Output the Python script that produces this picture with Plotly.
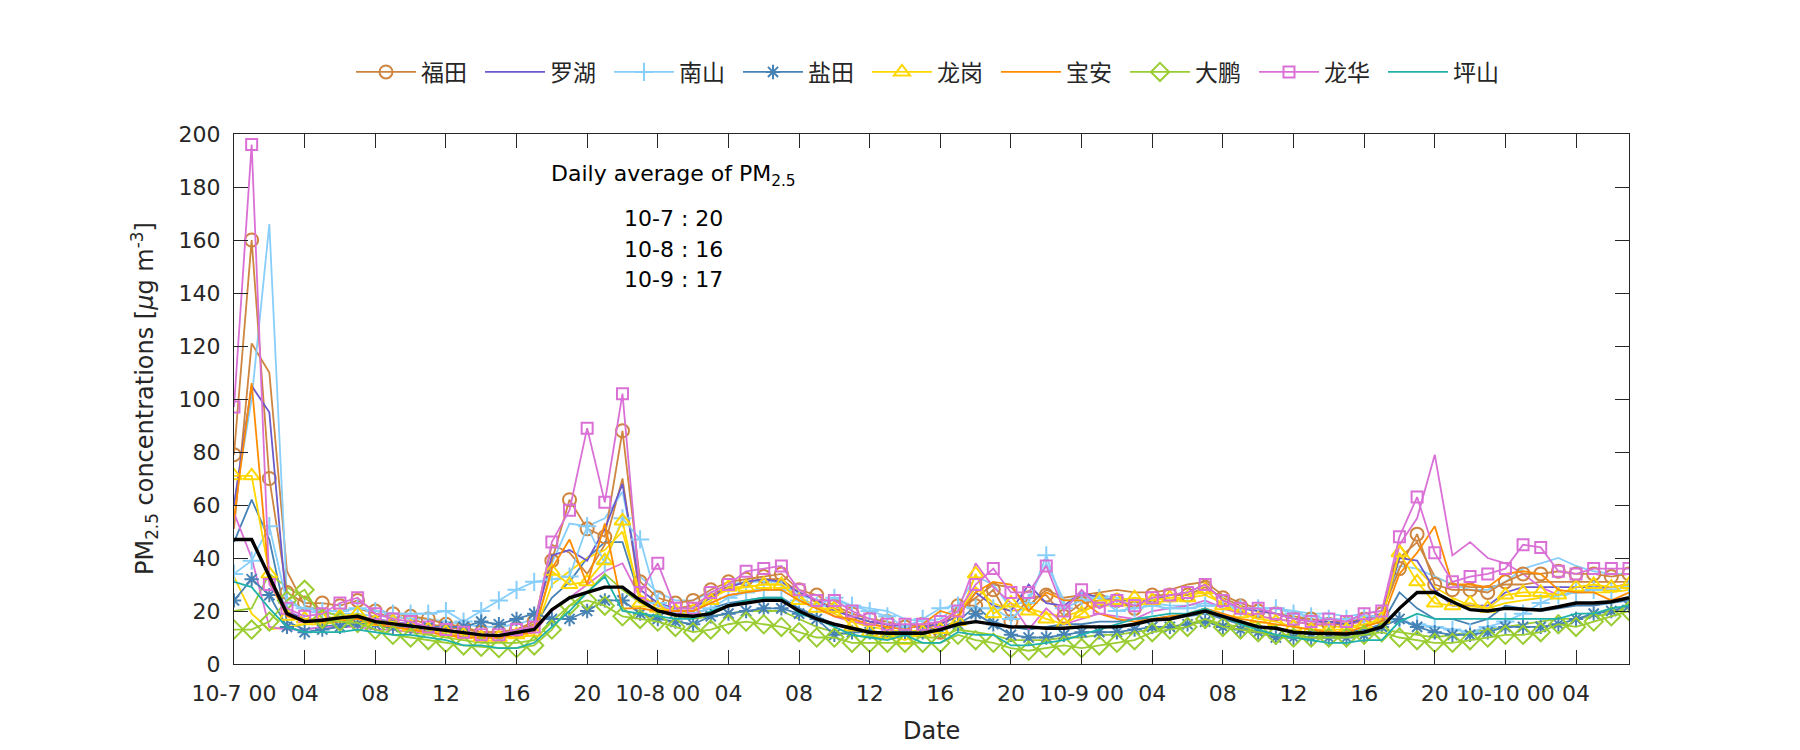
import plotly.graph_objects as go

# ---------------- data (hourly, 10-7 00:00 .. 10-10 07:00) ----------------
hours = list(range(80))

x_tickvals = [0, 4, 8, 12, 16, 20, 24, 28, 32, 36, 40, 44, 48, 52, 56, 60, 64, 68, 72, 76]
x_ticktext = ["10-7 00", "04", "08", "12", "16", "20", "10-8 00", "04", "08", "12", "16", "20",
              "10-9 00", "04", "08", "12", "16", "20", "10-10 00", "04"]
y_tickvals = [0, 20, 40, 60, 80, 100, 120, 140, 160, 180, 200]

futian = [79, 160, 70, 27, 23, 23, 22, 24, 20, 19, 18, 17, 15, 14, 12, 12, 13, 16,
          39, 62, 51, 48, 88, 31, 25, 23, 24, 28, 31, 32, 33, 34, 28, 26,
          22, 19, 17, 16, 14, 15, 12, 22, 22, 28, 16, 25, 26, 18, 23, 24,
          24, 21, 26, 26, 26, 29, 25, 22, 20, 19, 17, 17, 15, 15, 17, 19,
          36, 49, 30, 28, 28, 27, 31, 34, 34, 35, 34, 34, 33, 34]
futian_b = [51, 121, 110, 35, 22, 20, 20, 21, 19, 18, 17, 15, 14, 13, 12, 12, 13, 15,
            45, 42, 34, 45, 70, 25, 22, 21, 22, 26, 29, 31, 32, 32, 27, 24,
            21, 18, 16, 15, 14, 14, 16, 20, 25, 30, 29, 22, 28, 25, 26, 27,
            28, 27, 27, 28, 30, 31, 26, 23, 21, 19, 18, 17, 16, 16, 17, 18,
            40, 46, 33, 30, 29, 29, 30, 30, 31, 31, 31, 31, 31, 31]
luohu = [60, 105, 95, 20, 17, 17, 17, 18, 17, 16, 15, 14, 13, 12, 11, 11, 12, 14,
         41, 43, 39, 51, 68, 28, 23, 21, 21, 25, 29, 31, 32, 31, 27, 24,
         20, 18, 16, 15, 14, 14, 15, 18, 27, 22, 20, 30, 23, 22, 27, 25,
         24, 24, 24, 26, 27, 30, 24, 21, 20, 19, 17, 16, 16, 15, 17, 19,
         40, 39, 28, 22, 22, 22, 27, 29, 29, 29, 29, 29, 29, 30]
nanshan = [34, 39, 52, 23, 21, 20, 20, 21, 20, 19, 19, 19, 20, 16, 20, 24, 28, 31,
           32, 33, 52, 38, 55, 47, 23, 20, 19, 21, 25, 27, 28, 28, 24, 22,
           25, 22, 20, 18, 14, 17, 21, 22, 21, 21, 17, 23, 41, 21, 24, 25,
           20, 21, 22, 21, 21, 22, 22, 21, 21, 21, 19, 18, 17, 17, 18, 18,
           16, 15, 14, 13, 12, 14, 16, 19, 23, 26, 27, 28, 28, 29]
nanshan_b = [60, 100, 166, 25, 20, 19, 19, 19, 18, 18, 17, 17, 16, 15, 14, 14, 15, 17,
             38, 53, 52, 55, 65, 33, 27, 24, 24, 27, 30, 31, 31, 31, 26, 24,
             24, 22, 21, 20, 17, 16, 17, 22, 33, 30, 21, 25, 38, 24, 25, 26,
             25, 24, 23, 22, 22, 23, 22, 21, 21, 21, 20, 19, 19, 18, 19, 20,
             37, 36, 33, 30, 28, 28, 31, 36, 38, 40, 37, 35, 34, 34]
yantian = [24, 32, 26, 14, 12, 13, 14, 15, 15, 14, 14, 14, 14, 14, 16, 15, 17, 19,
           17, 17, 20, 24, 24, 19, 17, 16, 15, 18, 19, 20, 21, 21, 19, 17,
           11, 12, 12, 12, 12, 12, 13, 15, 19, 15, 11, 10, 10, 11, 12, 12,
           12, 13, 14, 14, 15, 16, 14, 13, 12, 10, 10, 10, 10, 10, 11, 14,
           17, 14, 12, 11, 11, 12, 14, 14, 14, 15, 17, 19, 20, 22]
yantian_b = [46, 62, 47, 16, 13, 14, 15, 16, 15, 14, 13, 13, 12, 12, 11, 11, 12, 14,
             25, 31, 40, 46, 46, 25, 20, 19, 19, 21, 23, 24, 25, 25, 21, 18,
             15, 13, 12, 11, 11, 12, 14, 16, 22, 16, 14, 13, 14, 15, 15, 16,
             16, 17, 17, 18, 18, 19, 17, 15, 14, 13, 12, 12, 12, 12, 13, 15,
             27, 21, 17, 17, 15, 17, 22, 21, 20, 21, 22, 22, 23, 24]
longgang = [71, 71, 34, 18, 17, 17, 18, 19, 16, 16, 14, 13, 12, 11, 10, 10, 11, 12,
            35, 30, 31, 39, 54, 23, 21, 20, 20, 24, 29, 29, 30, 30, 24, 21,
            21, 14, 12, 11, 9, 12, 13, 16, 34, 19, 23, 20, 17, 15, 19, 24,
            24, 25, 24, 25, 25, 28, 22, 19, 17, 16, 14, 13, 13, 13, 15, 17,
            42, 31, 23, 22, 23, 21, 26, 27, 27, 26, 29, 30, 29, 30]
longgang_b = [33, 19, 13, 14, 15, 15, 16, 16, 15, 14, 13, 12, 11, 10, 10, 10, 10, 11,
              30, 35, 40, 43, 50, 26, 22, 21, 21, 25, 28, 29, 30, 30, 25, 22,
              19, 16, 14, 13, 12, 13, 15, 18, 29, 23, 20, 21, 19, 18, 20, 22,
              22, 22, 23, 24, 25, 26, 23, 20, 18, 17, 16, 15, 14, 14, 15, 16,
              45, 36, 29, 25, 22, 21, 23, 24, 25, 26, 27, 27, 27, 28]
baoan = [55, 106, 31, 18, 16, 16, 16, 17, 15, 14, 13, 12, 11, 10, 10, 10, 11, 12,
         36, 47, 30, 53, 21, 21, 20, 20, 20, 23, 26, 27, 28, 28, 24, 21,
         18, 17, 15, 14, 13, 15, 20, 18, 27, 31, 30, 20, 27, 24, 24, 19,
         17, 16, 17, 18, 19, 21, 19, 17, 16, 15, 14, 13, 12, 12, 14, 16,
         34, 42, 52, 30, 30, 29, 34, 35, 34, 28, 27, 27, 24, 27]
dapeng = [13, 13, 16, 24, 28, 17, 16, 15.5, 13, 11, 10, 9, 8, 7, 6.5, 6, 6, 7,
          13, 22, 24, 22, 18, 17, 16, 14, 12, 13, 15, 16, 15, 14, 12, 10,
          10, 8, 8, 8, 8, 8, 8, 11, 9, 8, 6, 5, 6, 7, 6, 7,
          8, 9, 12, 13, 14, 17, 14, 13, 12, 11, 10, 10, 10, 10, 11, 12,
          10, 9, 8, 8, 9, 10, 11, 11, 12, 15, 14, 16, 18, 20]
dapeng_b = [20, 21, 34, 29, 25, 20, 18, 17, 15, 13, 12, 11, 10, 9, 8, 8, 8, 9,
            16, 22, 27, 34, 28, 23, 20, 18, 17, 18, 19, 20, 20, 20, 17, 14,
            12, 11, 10, 10, 11, 10, 10, 13, 12, 11, 9, 9, 9, 10, 10, 11,
            11, 12, 13, 14, 15, 17, 15, 14, 12, 11, 11, 10, 10, 11, 12, 13,
            12, 11, 10, 11, 12, 13, 14, 15, 16, 17, 17, 18, 19, 21]
longhua = [97, 196, 30, 21, 18, 19, 23, 25, 19, 17, 16, 14, 13, 12, 11, 11, 13, 14,
           46, 58, 89, 61, 102, 27, 38, 21, 21, 27, 30, 35, 36, 37, 28, 24,
           24, 20, 17, 15, 15, 15, 16, 20, 30, 36, 27, 27, 37, 20, 28, 21,
           24, 22, 25, 26, 27, 30, 24, 21, 21, 19, 17, 16, 17, 16, 19, 20,
           48, 63, 42, 31, 33, 34, 36, 45, 44, 35, 34, 36, 36, 36]
longhua_b = [57, 40, 14, 13, 13, 14, 14, 14, 13, 13, 12, 12, 11, 11, 10, 10, 11, 12,
             20, 25, 30, 35, 38, 25, 22, 20, 20, 23, 26, 27, 28, 28, 24, 22,
             18, 16, 15, 14, 14, 14, 15, 20, 38, 29, 23, 13, 21, 15, 17, 19,
             18, 17, 20, 21, 22, 24, 21, 19, 18, 17, 16, 15, 15, 15, 16, 18,
             45, 55, 79, 41, 46, 40, 38, 34, 29, 26, 27, 28, 29, 30]
pingshan = [31, 29, 21, 14, 12, 12, 12, 13, 12, 11, 11, 10, 9, 7, 7, 6, 6, 8,
            14, 20, 27, 33, 20, 19, 18, 17, 17, 20, 22, 24, 25, 25, 19, 17,
            14, 11, 10, 9, 11, 8, 8, 12, 11, 11, 7, 7, 8, 9, 11, 13,
            15, 17, 18, 19, 19, 21, 18, 15, 13, 11, 10, 9, 8, 8, 9, 9,
            16, 19, 17, 17, 17, 17, 17, 17, 17, 17, 19, 19, 21, 22]
city_mean = [47, 47, 33, 19, 16, 16.5, 17.4, 18, 16, 15.2, 14.2, 13.6, 12.7, 11.7, 11, 10.7, 11.7, 13,
             20.5, 25, 27, 29, 29, 24, 20, 18.5, 18, 19, 22, 23, 24, 24, 20, 17,
             15, 13.5, 12, 11.6, 11.6, 11.6, 13, 15, 16, 15, 14, 14, 13.5, 13.5, 14, 14,
             14, 15, 16.6, 17, 18.5, 20, 18, 16, 14, 13.5, 12, 11.6, 11.3, 11.3, 12, 14,
             21, 27, 27, 23.5, 20.5, 20, 21, 20.6, 20.4, 21.6, 23, 23, 23.5, 25]

for arr in [futian, futian_b, luohu, nanshan, nanshan_b, yantian, yantian_b, longgang,
            longgang_b, baoan, dapeng, dapeng_b, longhua, longhua_b, pingshan, city_mean]:
    assert len(arr) == 80, len(arr)

# ---------------- styles ----------------
C_FT, C_LH, C_NS, C_YT = "#CD853F", "#6A5ACD", "#87CEFA", "#4682B4"
C_LG, C_BA, C_DP, C_LHU, C_PS = "#FFD700", "#FF8C00", "#9ACD32", "#DA70D6", "#20B2AA"
AX = "#262626"
LW = 1.8

fig = go.Figure()

def add(name, y, color, symbol=None, size=10, show=True):
    mode = "lines+markers" if symbol else "lines"
    kw = dict(x=hours, y=y, name=name, mode=mode, showlegend=show,
              line=dict(color=color, width=LW))
    if symbol:
        kw["marker"] = dict(symbol=symbol, size=size, color=color,
                            line=dict(color=color, width=2))
    fig.add_trace(go.Scatter(**kw))

# unlabelled station lines (drawn underneath)
add("福田2", futian_b, C_FT, show=False)
add("南山2", nanshan_b, C_NS, show=False)
add("盐田2", yantian_b, C_YT, show=False)
add("龙岗2", longgang_b, C_LG, show=False)
add("大鹏2", dapeng_b, C_DP, show=False)
add("龙华2", longhua_b, C_LHU, show=False)

# legend series
add("福田", futian, C_FT, "circle-open", 13)
add("罗湖", luohu, C_LH)
add("南山", nanshan, C_NS, "cross-thin-open", 13)
add("盐田", yantian, C_YT, "asterisk-open", 12)
add("龙岗", longgang, C_LG, "triangle-up-open", 14)
add("宝安", baoan, C_BA)
add("大鹏", dapeng, C_DP, "diamond-open", 14)
add("龙华", longhua, C_LHU, "square-open", 11)
add("坪山", pingshan, C_PS)

# city mean (thick black, not in legend)
fig.add_trace(go.Scatter(x=hours, y=city_mean, mode="lines", showlegend=False,
                         line=dict(color="black", width=3.4)))

TICKFONT = dict(family="DejaVu Sans", size=22, color=AX)

# the page body adds an 8 px offset; the figure is sized so the plot box lands
# at x 234..1629, y 134..664 of the 1800x750 window
fig.update_layout(
    width=1792, height=742,
    paper_bgcolor="white", plot_bgcolor="white",
    margin=dict(l=226, r=171, t=126, b=86, autoexpand=False),
    showlegend=True,
    legend=dict(orientation="h", x=0.5, xanchor="center", y=1.117, yanchor="middle",
                font=dict(family="Noto Sans CJK SC", size=23, color=AX),
                itemwidth=60, entrywidth=54, entrywidthmode="pixels",
                bgcolor="rgba(0,0,0,0)", borderwidth=0),
    xaxis=dict(range=[0, 79], tickmode="array", tickvals=x_tickvals, ticktext=x_ticktext,
               showgrid=False, zeroline=False, showline=True, linecolor=AX, linewidth=1,
               mirror="ticks", ticks="inside", ticklen=14, tickwidth=1, tickcolor=AX,
               tickfont=TICKFONT, ticklabelstandoff=10, automargin=False),
    yaxis=dict(range=[0, 200], tickmode="array", tickvals=y_tickvals,
               showgrid=False, zeroline=False, showline=True, linecolor=AX, linewidth=1,
               mirror="ticks", ticks="inside", ticklen=14, tickwidth=1, tickcolor=AX,
               tickfont=TICKFONT, ticklabelstandoff=8, automargin=False),
)

ann_font = dict(family="DejaVu Sans", size=22, color="black")
fig.add_annotation(text="Daily average of PM<sub>2.5</sub>", xref="paper", yref="paper",
                   x=0.3147, y=0.921, xanchor="center", yanchor="middle",
                   showarrow=False, font=ann_font)
for txt, yy in [("10-7 : 20", 0.8415), ("10-8 : 16", 0.783), ("10-9 : 17", 0.7264)]:
    fig.add_annotation(text=txt, xref="paper", yref="paper", x=0.3147, y=yy,
                       xanchor="center", yanchor="middle", showarrow=False, font=ann_font)

# axis titles
fig.add_annotation(text="Date", xref="paper", yref="paper", x=0.5, y=-0.1264,
                   xanchor="center", yanchor="middle", showarrow=False,
                   font=dict(family="DejaVu Sans", size=24, color=AX))
fig.add_annotation(text="PM<sub>2.5</sub> concentrations [<i>μ</i>g m<sup>-3</sup>]",
                   xref="paper", yref="paper", x=-0.0645, y=0.5, textangle=-90,
                   xanchor="center", yanchor="middle", showarrow=False,
                   font=dict(family="DejaVu Sans", size=24, color=AX))

fig.write_html("out.html")
